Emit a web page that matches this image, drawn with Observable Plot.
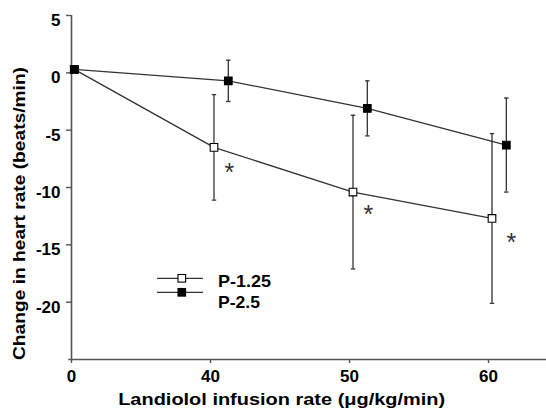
<!DOCTYPE html>
<html><head><meta charset="utf-8">
<script src="https://cdn.jsdelivr.net/npm/d3@7"></script>
<script src="https://cdn.jsdelivr.net/npm/@observablehq/plot@0.6"></script>
<style>
body{margin:0;background:#fff;}
#wrap{width:546px;height:409px;font-family:"Liberation Sans",Arial,sans-serif;}
</style></head><body><div id="wrap"></div>
<script>
// ---- data ----
const doses = ["0", "40", "50", "60"];
const seriesNames = ["P-1.25", "P-2.5"];
const p125Mean = [0.3, -6.5, -10.4, -12.7];
const p125SD   = [0, 4.6, 6.7, 7.4];
const p25Mean  = [0.3, -0.7, -3.1, -6.3];
const p25SD    = [0, 1.8, 2.4, 4.1];
const starDose = [1, 2, 3];          // dose index with significance marks
const starValues = [-8.3, -12.0, -14.4];
const yTicks = [5, 0, -5, -10, -15, -20];
const xTitle = "Landiolol infusion rate (μg/kg/min)";
const yTitle = "Change in heart rate (beats/min)";

// ---- build table ----
const offsets = {"P-1.25": 0.025, "P-2.5": 0.128};
const rows = [];
doses.forEach((d, i) => {
  rows.push({series: seriesNames[0], i, mean: p125Mean[i], sd: p125SD[i]});
  rows.push({series: seriesNames[1], i, mean: p25Mean[i], sd: p25SD[i]});
});
const xOf = d => d.i + (d.i === 0 ? 0.02 : offsets[d.series]);
const withErr = rows.filter(d => d.sd > 0);
const stars = starDose.map((i, k) => ({i, v: starValues[k]}));
const cap = 0.016;
const axisCol = "#555";
const lineCol = "#333";
const font = "'Liberation Sans', Arial, sans-serif";

const plot = Plot.plot({
  width: 546, height: 409,
  marginLeft: 71, marginRight: 0, marginTop: 15, marginBottom: 50,
  style: {fontFamily: font, fontSize: "16px", color: "#000", background: "#fff"},
  x: {type: "linear", domain: [0, 3.417]},
  y: {domain: [-25, 5]},
  marks: [
    Plot.ruleX([0], {stroke: axisCol, strokeWidth: 1.6}),
    Plot.ruleY([-25], {x1: -0.02, x2: 3.417, stroke: axisCol, strokeWidth: 1.6}),
    Plot.axisY({ticks: yTicks, tickSize: 5, stroke: axisCol, strokeWidth: 1.4, text: null, label: null}),
    Plot.axisY({ticks: yTicks, tickSize: 0, tickPadding: 11, tickFormat: d => String(d),
      fontSize: 17, fontWeight: "bold", dy: 5, label: null}),
    Plot.axisX({ticks: [0, 1, 2, 3], tickFormat: i => doses[i], tickSize: 4, tickPadding: 6, stroke: axisCol, strokeWidth: 1.4,
      fontSize: 17, fontWeight: "bold", label: null}),
    Plot.line(rows, {x: xOf, y: "mean", z: "series", stroke: lineCol, strokeWidth: 1.3}),
    Plot.ruleX(withErr, {x: xOf, y1: d => d.mean - d.sd, y2: d => d.mean + d.sd, stroke: lineCol, strokeWidth: 1.3}),
    Plot.link(withErr, {x1: d => xOf(d) - cap, x2: d => xOf(d) + cap, y1: d => d.mean + d.sd, y2: d => d.mean + d.sd, stroke: lineCol, strokeWidth: 1.3}),
    Plot.link(withErr, {x1: d => xOf(d) - cap, x2: d => xOf(d) + cap, y1: d => d.mean - d.sd, y2: d => d.mean - d.sd, stroke: lineCol, strokeWidth: 1.3}),
    Plot.dot(rows, {x: xOf, y: "mean", symbol: "square", r: 4.3, stroke: "#000", strokeWidth: 1.1,
      fill: d => d.series === seriesNames[0] ? "#fff" : "#000"}),
    Plot.text(stars, {x: d => d.i + 0.135 + (d.i === 3 ? 0.03 : 0), y: "v", text: () => "*", fontSize: 25, fontWeight: "normal", fill: "#333", dy: 5})
  ]
});
document.getElementById("wrap").appendChild(plot);

const svg = d3.select(plot);
// axis titles
svg.append("text")
  .attr("x", 281.7).attr("y", 405).attr("text-anchor", "middle")
  .attr("font-family", font).attr("font-size", 16.5).attr("font-weight", "bold")
  .attr("textLength", 327).attr("lengthAdjust", "spacingAndGlyphs")
  .text(xTitle);
svg.append("text")
  .attr("transform", "translate(25,213.5) rotate(-90)").attr("text-anchor", "middle")
  .attr("font-family", font).attr("font-size", 16.5).attr("font-weight", "bold")
  .attr("textLength", 293).attr("lengthAdjust", "spacingAndGlyphs")
  .text(yTitle);

// legend
const sw = [278.3, 292.3];
const tb = [286.7, 308.3];
const tl = [53, 42];
seriesNames.forEach((name, k) => {
  const g = svg.append("g");
  g.append("line").attr("x1", 157).attr("x2", 203).attr("y1", sw[k]).attr("y2", sw[k])
    .attr("stroke", lineCol).attr("stroke-width", 1.3);
  g.append("rect").attr("x", 178).attr("y", sw[k] - 3.8).attr("width", 7.6).attr("height", 7.6)
    .attr("fill", k === 0 ? "#fff" : "#000").attr("stroke", "#000").attr("stroke-width", 1.1);
  g.append("text").attr("x", 218).attr("y", tb[k]).attr("text-anchor", "start")
    .attr("font-family", font).attr("font-size", 16.5).attr("font-weight", "bold")
    .attr("textLength", tl[k]).attr("lengthAdjust", "spacingAndGlyphs").text(name);
});
</script>
</body></html>
